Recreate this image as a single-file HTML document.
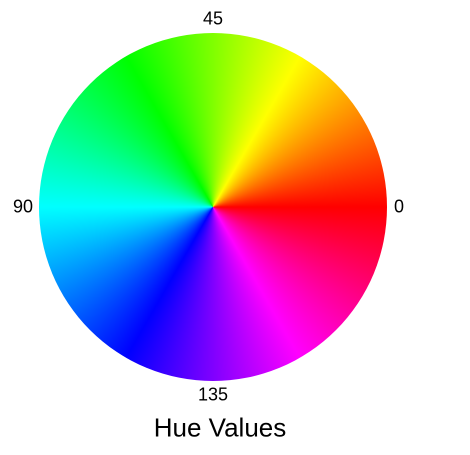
<!DOCTYPE html>
<html>
<head>
<meta charset="utf-8">
<style>
  html,body{margin:0;padding:0;background:#fff;}
  #chart{position:relative;width:470px;height:455px;overflow:hidden;font-family:"Liberation Sans",sans-serif;}
  #wheel{position:absolute;left:39px;top:33px;width:348px;height:348px;border-radius:50%;}
  .tick{position:absolute;font-size:18px;color:#000;transform:translate(-50%,-50%);white-space:nowrap;}
  #title{position:absolute;left:220px;top:428px;transform:translate(-50%,-50%);font-size:26px;color:#000;white-space:nowrap;}
</style>
</head>
<body>
<div id="chart">
  <div id="wheel"></div>
  <div id="title">Hue Values</div>
</div>
<script>
// Hue tick values (OpenCV half-degree scale) shown around the wheel
const tickLabels = ["0", "45", "90", "135"];
const tickValues = [0, 45, 90, 135];
const hueScale = 2; // tick value * 2 = hue degrees

const cx = 213, cy = 207, r = 174;
const labelOffset = [12, 14, 16, 14];

const chart = document.getElementById('chart');
tickValues.forEach(function(v, i){
  const ang = v * hueScale * Math.PI / 180; // counterclockwise from right
  const d = r + labelOffset[i];
  const el = document.createElement('div');
  el.className = 'tick';
  
  
  el.textContent = tickLabels[i];
  el.style.left = (cx + d * Math.cos(ang)) + 'px';
  el.style.top = (cy - d * Math.sin(ang)) + 'px';
  chart.appendChild(el);
});

// conic gradient: CSS starts at top going clockwise; hue increases counterclockwise from right
const stops = [];
for (let a = 0; a <= 360; a += 10) {
  const hue = ((90 - a) % 360 + 360) % 360;
  stops.push('hsl(' + hue + ',100%,50%) ' + a + 'deg');
}
document.getElementById('wheel').style.background = 'conic-gradient(' + stops.join(',') + ')';
</script>
</body>
</html>
